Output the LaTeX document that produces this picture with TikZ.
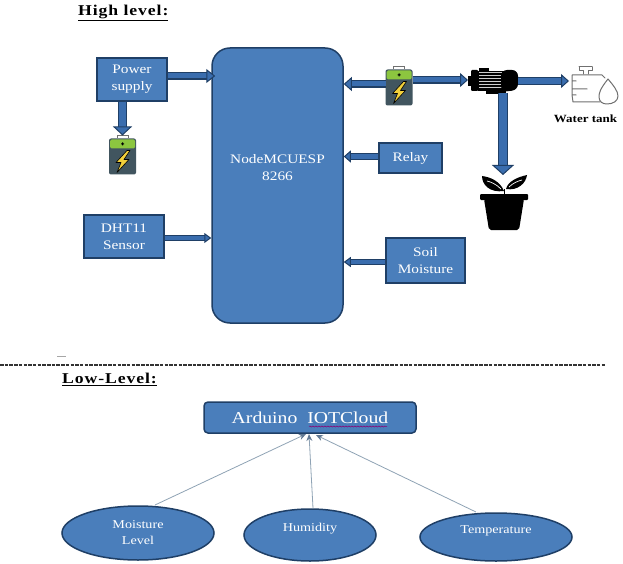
\documentclass[tikz,border=0pt]{standalone}
\usepackage{fontspec}
\setmainfont[FakeStretch=1.18]{Liberation Serif}
\usetikzlibrary{arrows.meta,shapes.geometric,decorations.pathmorphing}
\definecolor{boxblue}{HTML}{4A7EBB}
\definecolor{boxedge}{HTML}{1F3F66}
\definecolor{flowblue}{HTML}{3A6DAE}
\definecolor{slate}{HTML}{41555F}
\definecolor{batgreen}{HTML}{8CC63F}
\definecolor{boltyellow}{HTML}{F2D03B}
\definecolor{tankgrey}{HTML}{707070}
\definecolor{thinline}{HTML}{8FA3B5}
\tikzset{
  x=1pt,y=-1pt,
  blockbox/.style={draw=boxedge,line width=1.5pt,fill=boxblue,text=white,align=center,inner sep=0pt,font=\fontsize{13}{17}\selectfont},
  oval/.style={ellipse,draw=boxedge,line width=1.5pt,fill=boxblue,text=white,align=center,inner sep=0pt,font=\fontsize{12}{16}\selectfont},
  iconbox/.style={inner sep=0pt,outer sep=0pt},
  heading/.style={inner sep=0pt,font=\bfseries\fontsize{15}{17}\selectfont\addfontfeature{LetterSpace=6}},
  flow/.style n args={3}{draw=boxedge,line width=1.2pt,double=flowblue,double distance=#1,
    -{Triangle[width=#2,length=#3,fill=flowblue,color=boxedge,line width=1pt]}},
  thin arrow/.style={draw=thinline,line width=.8pt,-{Stealth[length=7pt,width=6pt,color=boxedge!70!white]}},
  batterypic/.pic={
    \draw[tankgrey,line width=.8pt,fill=white] (8,3) -- (8,0) -- (19,0) -- (19,3);
    \fill[slate,rounded corners=2pt] (0,3) rectangle (27,39);
    \fill[batgreen,rounded corners=1.5pt] (1,4) rectangle (26,13);
    \fill[black] (12,8) rectangle (15,9) (13,7) rectangle (14,10);
    \draw[black,line width=.6pt,fill=boltyellow,line join=round] (18,15) -- (7,27) -- (12,27) -- (8,37) -- (20,24) -- (15,24) -- (21,15) -- cycle;
  },
  motorpic/.pic={
    \fill[black] (0,8) rectangle (4,18);
    \fill[black,rounded corners=1pt] (3,2) rectangle (10,23);
    \fill[black] (11,0) rectangle (21,4);
    \fill[black] (10,3) rectangle (36,23);
    \foreach \s in {5,8,...,20} {\draw[white!80!black,line width=1pt] (11,\s) -- (34,\s);}
    \fill[black,rounded corners=6pt] (33,2) -- (50,2) -- (50,22) -- (33,24) -- cycle;
    \fill[black] (18,23) rectangle (38,26);
  },
  tankpic/.pic={
    \begin{scope}[tankgrey,line width=1pt,line join=round,line cap=round]
    \draw (9,0) -- (22,0) (9,0) -- (9,4) -- (13,4) -- (13,7) (22,0) -- (22,4) -- (18,4) -- (18,7);
    \draw (2,8) -- (32,8) -- (35,11) (2,8) -- (2,14) (6,14) -- (2,14) -- (2,22) -- (17,22) (2,22) -- (2,28) (2,28) -- (6,28) (2,28) -- (3,35) -- (30,35);
    \draw (38,12) .. controls (30,22) and (29,26) .. (29,30) .. controls (29,35) and (33,37) .. (37,37)
      .. controls (43,37) and (48,34) .. (48,29) .. controls (48,24) and (43,18) .. (38,12) -- cycle;
    \end{scope}
  },
  plantpic/.pic={
    \fill[black,rounded corners=1pt] (0,19) rectangle (48,25);
    \fill[black,rounded corners=2pt] (4,24) -- (44,24) -- (39,55) -- (9,55) -- cycle;
    \draw[black,line width=1pt] (24,20) -- (24,14);
    \fill[black] (24,16) .. controls (20,6) and (10,2) .. (2,1) .. controls (2,10) and (10,18) .. (24,16) -- cycle;
    \fill[black] (26,14) .. controls (28,6) and (38,2) .. (47,0) .. controls (46,8) and (38,16) .. (26,14) -- cycle;
    \draw[white,line width=.7pt] (21,14) .. controls (16,9) and (11,7) .. (7,6);
    \draw[white,line width=.7pt] (29,12) .. controls (33,8) and (38,6) .. (42,5);
  }
}
\begin{document}
\begin{tikzpicture}
\useasboundingbox (0,0) rectangle (623,564);
\fill[white] (0,0) rectangle (623,564);

% headings
\node[heading,anchor=west] (high) at (78,13) {\underline{High level:}};
\node[heading,anchor=west] (low) at (62,379) {\underline{Low-Level:}};

% high-level blocks
\node[blockbox,minimum width=70,minimum height=43] (ps) at (132,79.5) {Power\\supply};
\node[blockbox,rounded corners=18pt,minimum width=131,minimum height=275] (mcu) at (277.5,185.5) {NodeMCUESP\\8266\\[20pt]\mbox{}};
\node[blockbox,minimum width=80,minimum height=43] (dht) at (124,236.5) {DHT11\\Sensor};
\node[blockbox,minimum width=63,minimum height=30] (relay) at (410.5,158) {Relay};
\node[blockbox,minimum width=79,minimum height=45] (soil) at (425.5,260.5) {Soil\\Moisture};

% icons
\node[iconbox,minimum width=27,minimum height=38] (bat1) at (122.5,154.5) {};
\path (bat1.north west) pic {batterypic};
\node[iconbox,minimum width=27,minimum height=38] (bat2) at (399,85.5) {};
\path (bat2.north west) pic {batterypic};
\node[iconbox,minimum width=50,minimum height=26] (motor) at (493,81) {};
\path (motor.north west) pic {motorpic};
\node[iconbox,minimum width=48,minimum height=38] (tank) at (594,86) {};
\path (tank.north west) pic {tankpic};
\node[iconbox,minimum width=48,minimum height=55] (plant) at (504,202.5) {};
\path (plant.north west) pic {plantpic};
\node[inner sep=0pt,font=\bfseries\fontsize{11}{12}\selectfont] (tanklabel) at (585.5,119) {Water tank};

% high-level connectors
\coordinate (psa) at (ps.east |- 0,76);
\coordinate (mcua) at (mcu.west |- 0,76);
\coordinate (dhta) at (dht.east |- 0,238);
\coordinate (mcud) at (mcu.west |- 0,238);
\coordinate (rela) at (relay.west |- 0,156.5);
\coordinate (mcur) at (mcu.east |- 0,156.5);
\coordinate (soila) at (soil.west |- 0,262);
\coordinate (mcus) at (mcu.east |- 0,262);
\coordinate (batb) at (bat2.west |- 0,84);
\coordinate (mcub) at (mcu.east |- 0,84);
\coordinate (batc) at (bat2.east |- 0,80);
\coordinate (motc) at (motor.west |- 0,80);
\coordinate (motd) at (motor.east |- 0,81);
\coordinate (tankd) at (tank.west |- 0,81);
\coordinate (mote) at (503,93);
\coordinate (plante) at (503,175);
\draw[flow={5pt}{14pt}{9pt},shorten >=-4pt] (psa) -- (mcua);
\draw[flow={7pt}{19pt}{9pt}] (ps.south -| bat1.north) -- (bat1.north);
\draw[flow={4pt}{10pt}{7pt}] (dhta) -- (mcud);
\draw[flow={5pt}{12pt}{7pt}] (rela) -- (mcur);
\draw[flow={4pt}{10pt}{7pt}] (soila) -- (mcus);
\draw[flow={5pt}{14pt}{8pt}] (batb) -- (mcub);
\draw[flow={5pt}{14pt}{8pt}] (batc) -- (motc);
\draw[flow={6pt}{14pt}{8pt},shorten >=1pt] (motd) -- (tankd);
\draw[flow={8pt}{22pt}{10pt}] (mote) -- (plante);

% divider
\coordinate (divl) at (0,365);
\coordinate (divr) at (606,365);
\draw[black!80,line width=1.2pt,dash pattern=on 3.5pt off 1.2pt] (divl) -- (divr);
\coordinate (dashl) at (57,356);
\coordinate (dashr) at (66,356);
\draw[black!35,line width=.8pt] (dashl) -- (dashr);

% low-level
\node[blockbox,rounded corners=4pt,minimum width=212,minimum height=31,font=\fontsize{16.7}{18}\selectfont] (cloud) at (310,417.5) {Arduino\ \ IOTCloud};
\coordinate (squigl) at (309,426.5);
\coordinate (squigr) at (387,426.5);
\draw[red!55!blue,line width=.5pt,decorate,decoration={snake,amplitude=.5pt,segment length=3pt}] (squigl) -- (squigr);
\node[oval,minimum width=152,minimum height=54] (moist) at (138,533) {Moisture\\Level};
\node[oval,minimum width=132,minimum height=52] (humid) at (310,535) {Humidity\\\mbox{}};
\node[oval,minimum width=152,minimum height=48] (temp) at (496,537) {Temperature\\[-2pt]\mbox{}};
\coordinate (moista) at (155,505);
\coordinate (tempa) at (476,512);
\coordinate (cloudl) at (306,434);
\coordinate (cloudm) at (309,434);
\coordinate (cloudr) at (316,435);
\draw[thin arrow] (moista) -- (cloudl);
\draw[thin arrow] (humid.north) ++(3,0) -- (cloudm);
\draw[thin arrow] (tempa) -- (cloudr);
\end{tikzpicture}
\end{document}
